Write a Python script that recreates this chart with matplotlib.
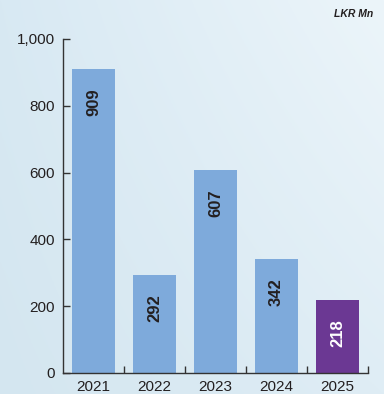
import numpy as np
import matplotlib
matplotlib.use("Agg")
import matplotlib.pyplot as plt
from matplotlib.colors import to_rgb

plt.rcParams['font.family'] = ['Liberation Sans', 'DejaVu Sans']

years = ["2021", "2022", "2023", "2024", "2025"]
values = [909, 292, 607, 342, 218]
bar_colors = ["#7eaadb", "#7eaadb", "#7eaadb", "#7eaadb", "#6b3893"]
label_colors = ["#231f20", "#231f20", "#231f20", "#231f20", "#ffffff"]
y_ticks = [0, 200, 400, 600, 800, 1000]
unit_label = "LKR Mn"

text_color = "#231f20"

fig = plt.figure(figsize=(3.84, 3.94), dpi=100)

# soft light-blue backdrop: bilinear blend between four corner tints
corners = {
    "tl": np.array(to_rgb("#d8e9f3")),
    "tr": np.array(to_rgb("#ecf5fa")),
    "bl": np.array(to_rgb("#d4e6f0")),
    "br": np.array(to_rgb("#dfedf5")),
}
gx, gy = np.meshgrid(np.linspace(0, 1, 200), np.linspace(0, 1, 200))
gx = gx[..., None]
gy = gy[..., None]
img = ((1 - gx) * (1 - gy) * corners["tl"] + gx * (1 - gy) * corners["tr"]
       + (1 - gx) * gy * corners["bl"] + gx * gy * corners["br"])
bg = fig.add_axes([0, 0, 1, 1], zorder=-10)
bg.imshow(img, aspect="auto", extent=[0, 1, 0, 1], origin="upper")
bg.set_axis_off()

ax = fig.add_axes([63 / 384, 21 / 394, 305 / 384, 334 / 394])
ax.patch.set_alpha(0)

x = np.arange(len(years))
bars = ax.bar(x, values, width=0.72, color=bar_colors, zorder=2)

for xi, v, c in zip(x, values, label_colors):
    ax.annotate(f"{v}", xy=(xi, v), xytext=(0, -33 * 72 / 100),
                textcoords="offset points", rotation=90, ha="center", va="center",
                fontsize=12, fontweight="bold", color=c)

ax.set_xlim(-0.5, len(years) - 0.5)
ax.set_ylim(0, 1000)
ax.set_yticks(y_ticks)
ax.set_yticklabels([f"{t:,}" for t in y_ticks])
ax.set_xticks(x)
ax.set_xticklabels(years)
ax.set_xticks(np.arange(len(years)) + 0.5, minor=True)

for side in ("top", "right"):
    ax.spines[side].set_visible(False)
for side in ("left", "bottom"):
    ax.spines[side].set_color("#333333")
    ax.spines[side].set_linewidth(1.0)

ax.tick_params(axis="y", direction="in", length=5, width=1, color="#333333",
               labelsize=11, labelcolor=text_color, pad=6)
ax.tick_params(axis="x", which="major", length=0, labelsize=11,
               labelcolor=text_color, pad=5)
ax.tick_params(axis="x", which="minor", direction="in", length=5, width=1,
               color="#333333")

fig.text(373 / 384, 1 - 14 / 394, unit_label, ha="right", va="center",
         fontsize=7.5, fontweight="bold", fontstyle="italic", color=text_color)

fig.savefig("out.png", dpi=100)
